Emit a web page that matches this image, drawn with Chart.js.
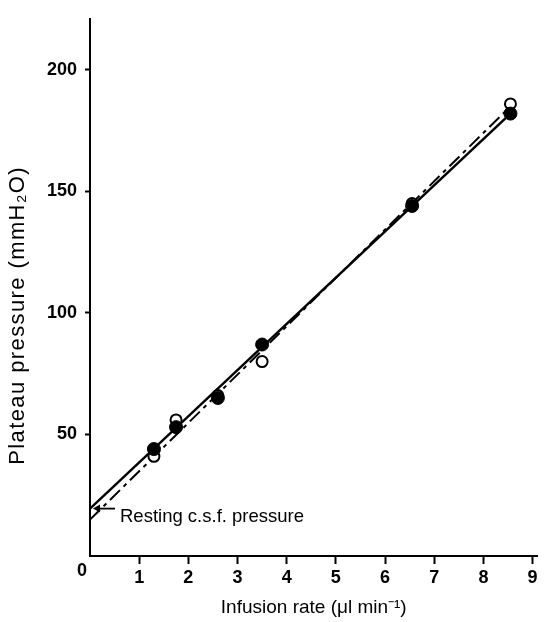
<!DOCTYPE html>
<html>
<head>
<meta charset="utf-8">
<script src="https://cdn.jsdelivr.net/npm/chart.js@4/dist/chart.umd.min.js"></script>
<style>
  html, body { margin: 0; padding: 0; background: #fff; }
  #wrap { width: 545px; height: 622px; }
</style>
</head>
<body>
<div id="wrap"><canvas id="chart" width="545" height="622"></canvas></div>
<script>
// data
const rateFilled = [1.3, 1.75, 2.6, 3.5, 6.55, 8.55];
const pressureFilled = [44, 53, 65, 87, 144, 182];
const rateOpen = [1.3, 1.75, 2.6, 3.5, 6.55, 8.55];
const pressureOpen = [41, 56, 66, 80, 145, 186];
const solidFitX = [0, 8.55];
const solidFitY = [19.5, 182];
const dashFitX = [0, 8.45];
const dashFitY = [15, 183];
const restingPressure = 19.5;
const xTickValues = [0, 1, 2, 3, 4, 5, 6, 7, 8, 9];
const yTickValues = [0, 50, 100, 150, 200];
const restingText = 'Resting c.s.f. pressure';
const yTitle = 'Plateau pressure (mmH\u2082O)';

const FONT = '"Liberation Sans", Arial, Helvetica, sans-serif';

function pts(xs, ys) {
  return xs.map((x, i) => ({ x: x, y: ys[i] }));
}

const extras = {
  id: 'extras',
  afterDraw(chart) {
    const ctx = chart.ctx;
    const xs = chart.scales.x, ys = chart.scales.y;
    ctx.save();
    ctx.fillStyle = '#000';
    // corner zero
    ctx.font = 'bold 18px ' + FONT;
    ctx.textAlign = 'center';
    ctx.textBaseline = 'middle';
    ctx.fillText('0', xs.getPixelForValue(0) - 8, ys.getPixelForValue(0) + 15);
    // y axis title, set a bit wider than the plain font
    ctx.save();
    ctx.translate(18, ys.getPixelForValue(99));
    ctx.rotate(-Math.PI / 2);
    ctx.font = '22px ' + FONT;
    ctx.letterSpacing = '1.4px';
    ctx.fillText(yTitle, 0, 0);
    ctx.restore();
    // resting pressure arrow + label
    const ay = ys.getPixelForValue(restingPressure);
    const ax = xs.getPixelForValue(0) + 3;
    ctx.strokeStyle = '#000';
    ctx.lineWidth = 1.8;
    ctx.beginPath();
    ctx.moveTo(ax + 22, ay);
    ctx.lineTo(ax + 2, ay);
    ctx.stroke();
    ctx.beginPath();
    ctx.moveTo(ax, ay);
    ctx.lineTo(ax + 7, ay - 4);
    ctx.lineTo(ax + 7, ay + 4);
    ctx.closePath();
    ctx.fill();
    ctx.font = '18.5px ' + FONT;
    ctx.textAlign = 'left';
    ctx.fillText(restingText, ax + 27, ay + 8);
    ctx.restore();
  }
};

new Chart(document.getElementById('chart'), {
  type: 'scatter',
  data: {
    datasets: [
      {
        label: 'filled',
        data: pts(rateFilled, pressureFilled),
        pointRadius: 6.5,
        pointBackgroundColor: '#000',
        pointBorderColor: '#000',
        pointBorderWidth: 1
      },
      {
        label: 'open',
        data: pts(rateOpen, pressureOpen),
        pointRadius: 5.5,
        pointBackgroundColor: '#fff',
        pointBorderColor: '#000',
        pointBorderWidth: 2
      },
      {
        label: 'solid fit',
        type: 'line',
        data: pts(solidFitX, solidFitY),
        borderColor: '#000',
        borderWidth: 2.5,
        pointRadius: 0,
        fill: false
      },
      {
        label: 'dash fit',
        type: 'line',
        data: pts(dashFitX, dashFitY),
        borderColor: '#000',
        borderWidth: 2,
        borderDash: [14, 5, 4, 5],
        pointRadius: 0,
        fill: false
      }
    ]
  },
  options: {
    responsive: false,
    devicePixelRatio: 1,
    animation: false,
    layout: { padding: { top: 5, right: 0, left: 0, bottom: 0 } },
    plugins: { legend: { display: false }, tooltip: { enabled: false } },
    scales: {
      x: {
        type: 'linear',
        min: 0,
        max: 9.1,
        afterFit(scale) { scale.height = 66; },
        afterBuildTicks(scale) { scale.ticks = xTickValues.map(v => ({ value: v })); },
        border: { display: true, color: '#000', width: 2 },
        grid: {
          drawOnChartArea: false,
          drawTicks: true,
          tickLength: 8,
          tickWidth: 2,
          tickColor: ctx => (ctx.tick && ctx.tick.value === 0 ? 'rgba(0,0,0,0)' : '#000')
        },
        ticks: {
          color: '#000',
          padding: 3,
          maxRotation: 0,
          font: { family: FONT, size: 18, weight: 'bold' },
          callback: v => (v === 0 ? '' : String(v))
        },
        title: {
          display: true,
          text: 'Infusion rate (\u03bcl min\u207b\u00b9)',
          color: '#000',
          font: { family: FONT, size: 19 },
          padding: { top: 0, bottom: 3 }
        }
      },
      y: {
        type: 'linear',
        min: 0,
        max: 221,
        afterFit(scale) { scale.width = 90; },
        afterBuildTicks(scale) { scale.ticks = yTickValues.map(v => ({ value: v })); },
        border: { display: true, color: '#000', width: 2 },
        grid: {
          drawOnChartArea: false,
          drawTicks: true,
          tickLength: 5,
          tickWidth: 2,
          tickColor: ctx => (ctx.tick && ctx.tick.value === 0 ? 'rgba(0,0,0,0)' : '#000')
        },
        ticks: {
          color: '#000',
          padding: 8,
          font: { family: FONT, size: 18, weight: 'bold' },
          callback: v => (v === 0 ? '' : String(v))
        },
        title: { display: false }
      }
    }
  },
  plugins: [extras]
});
</script>
</body>
</html>
